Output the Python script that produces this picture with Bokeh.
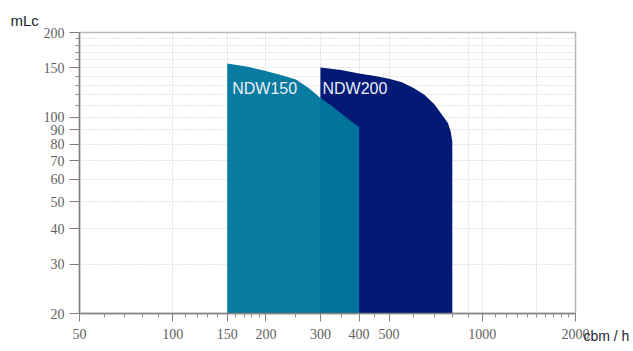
from bokeh.plotting import figure
from bokeh.models import (FixedTicker, NumeralTickFormatter, Label, Range1d,
                          LinearAxis)
from bokeh.embed import file_html
from bokeh.resources import INLINE

# ---- data ----
ndw150_q = [150, 175, 200, 225, 250, 275, 300, 325, 350, 375, 400]
ndw150_h = [155, 151, 146, 141, 136, 127, 117, 110, 103, 97, 92]

ndw200_q = [300, 350, 400, 450, 500, 550, 600, 650, 700, 750, 775, 790, 800]
ndw200_h = [150, 147, 143, 140, 137, 133, 127, 120, 111, 100, 95, 89, 82]

x_major = [50, 100, 150, 200, 300, 400, 500, 1000, 2000]
x_minor = [60, 70, 80, 90, 110, 120, 130, 140, 160, 170, 180, 190, 250, 350,
           450, 600, 700, 800, 900, 1100, 1200, 1300, 1400, 1500, 1600, 1700,
           1800, 1900]
x_grid = [100, 150, 200, 300, 400, 500, 900, 1000, 1500]

y_major = [20, 30, 40, 50, 60, 70, 80, 90, 100, 150, 200]
y_minor = [110, 120, 130, 140, 160, 170, 180, 190]
y_grid = [30, 40, 50, 60, 70, 80, 90, 100, 110, 120, 130, 140, 150, 160, 170, 180, 190]

base_h = 20

NAVY = "#021a76"
TEAL = "#00779e"

W, H = 633, 349

p = figure(width=W, height=H, x_axis_type="log", y_axis_type="log",
           output_backend="svg", toolbar_location=None,
           x_range=Range1d(50, 2000), y_range=Range1d(20, 200),
           min_border_left=79, min_border_right=58,
           min_border_top=32, min_border_bottom=36)

p.background_fill_color = "white"
p.border_fill_color = "white"
p.outline_line_color = "#b8b8b8"
p.outline_line_width = 1.5

# y-axis unit as title, top-left
p.title.text = "mLc"
p.title.align = "left"
p.title.vertical_align = "top"
p.title.offset = -69
p.title.standoff = 3
p.title.text_font = "Liberation Sans"
p.title.text_font_size = "15px"
p.title.text_font_style = "normal"
p.title.text_color = "#1b1f33"

# areas
p.varea(x=ndw200_q, y1=[base_h] * len(ndw200_q), y2=ndw200_h, fill_color=NAVY)
p.varea(x=ndw150_q, y1=[base_h] * len(ndw150_q), y2=ndw150_h, fill_color=TEAL,
        fill_alpha=0.97)

# axes
for ax, major, minor in ((p.xaxis[0], x_major, x_minor), (p.yaxis[0], y_major, y_minor)):
    ax.ticker = FixedTicker(ticks=major, minor_ticks=minor)
    ax.formatter = NumeralTickFormatter(format="0")
    ax.axis_line_color = "#808080"
    ax.axis_line_width = 1.5
    ax.major_tick_line_color = "#808080"
    ax.minor_tick_line_color = "#909090"
    ax.major_tick_in = 0
    ax.minor_tick_in = 0
    ax.minor_tick_out = 4
    ax.major_label_text_font = "Liberation Serif"
    ax.major_label_text_font_size = "14px"
    ax.major_label_text_color = "#5f5f5f"

p.xaxis.major_tick_out = 8
p.yaxis.major_tick_out = 10
p.xaxis.major_label_standoff = 7
p.yaxis.major_label_standoff = 5

# x-axis unit: label of a bare right axis, pushed down to the bottom-right
# corner with leading blank lines (the label block is centred on the frame)
unit_text = "\n" * 17 + "cbm / h"
unit_axis = LinearAxis(axis_label=unit_text, axis_label_orientation="horizontal",
                       axis_label_standoff=8,
                       axis_label_text_font="Liberation Sans",
                       axis_label_text_font_size="14px",
                       axis_label_text_font_style="normal",
                       axis_label_text_color="#1b1f33",
                       axis_line_color=None, major_tick_line_color=None,
                       minor_tick_line_color=None, major_label_text_font_size="0px",
                       major_tick_out=0, minor_tick_out=0, major_label_standoff=0,
                       ticker=FixedTicker(ticks=[]))
p.add_layout(unit_axis, "right")

# grids
p.xgrid.ticker = FixedTicker(ticks=x_grid)
p.ygrid.ticker = FixedTicker(ticks=y_grid)
for g in (p.xgrid[0], p.ygrid[0]):
    g.grid_line_color = "#c8c8c8"
    g.grid_line_dash = "1 2"
    g.grid_line_width = 1

# series labels
p.add_layout(Label(x=150, y=126, x_offset=5, text="NDW150", text_color="#e8eef4",
                   text_font="Liberation Sans", text_font_size="16px",
                   text_baseline="middle"))
p.add_layout(Label(x=300, y=126, x_offset=2, text="NDW200", text_color="#e8eef4",
                   text_font="Liberation Sans", text_font_size="16px",
                   text_baseline="middle"))

open("out.html", "w").write(file_html(p, INLINE))
